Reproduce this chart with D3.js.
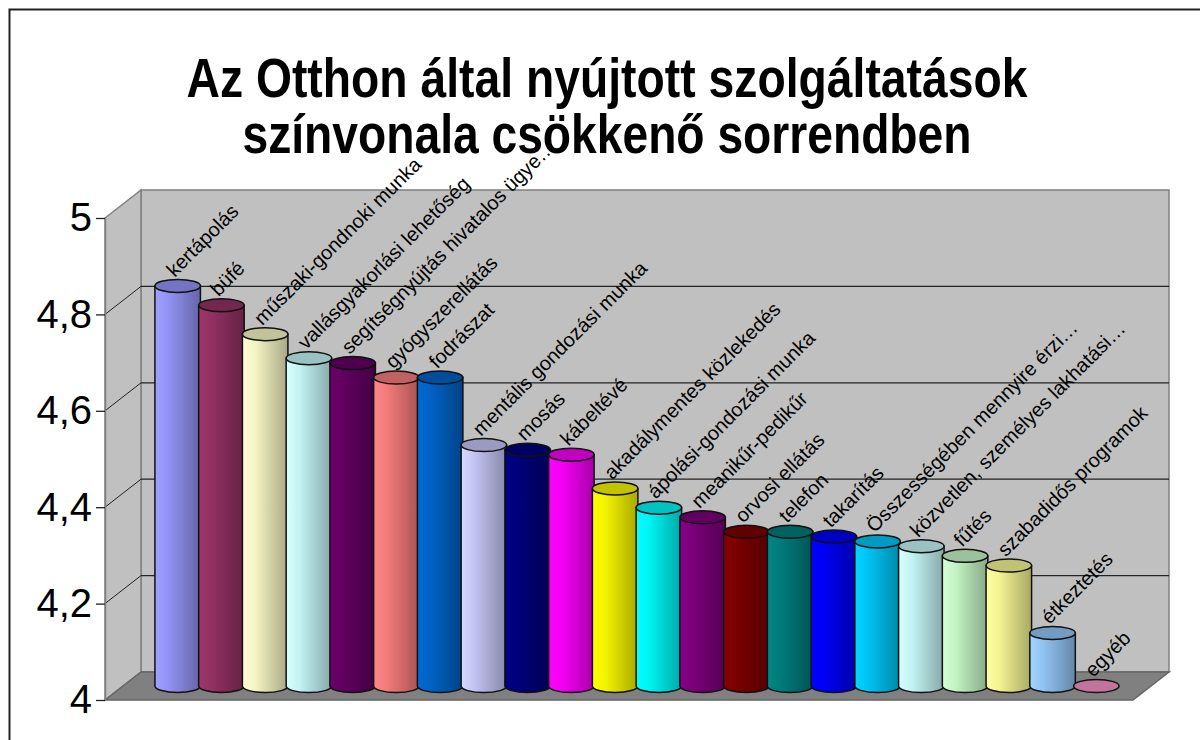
<!DOCTYPE html>
<html>
<head>
<meta charset="utf-8">
<script src="https://cdn.jsdelivr.net/npm/d3@7"></script>
<style>
  body { margin: 0; background: #fff; }
  svg text { font-family: "Liberation Sans", Arial, sans-serif; }
</style>
</head>
<body>
<div id="chart"></div>
<script>
// service categories, in decreasing order of rating
const categories = [
  "kertápolás", "büfé", "műszaki-gondnoki munka", "vallásgyakorlási lehetőség",
  "segítségnyújtás hivatalos ügye…", "gyógyszerellátás", "fodrászat",
  "mentális gondozási munka", "mosás", "kábeltévé", "akadálymentes közlekedés",
  "ápolási-gondozási munka", "meanikűr-pedikűr", "orvosi ellátás", "telefon",
  "takarítás", "Összességében mennyire érzi…", "közvetlen, személyes lakhatási…",
  "fűtés", "szabadidős programok", "étkeztetés", "egyéb"
];
const values = [
  4.83, 4.79, 4.73, 4.68, 4.67, 4.64, 4.64, 4.50, 4.49, 4.48, 4.41,
  4.37, 4.35, 4.32, 4.32, 4.31, 4.30, 4.29, 4.27, 4.25, 4.11, 4.00
];
const colors = [
  "#9999ff", "#993366", "#ffffcc", "#ccffff", "#660066", "#ff8080", "#0066cc",
  "#ccccff", "#000080", "#ff00ff", "#ffff00", "#00ffff", "#800080", "#800000",
  "#008080", "#0000ff", "#00ccff", "#ccffff", "#ccffcc", "#ffff99", "#99ccff", "#ff99cc"
];
const yTicks = [4, 4.2, 4.4, 4.6, 4.8, 5];
const titleLines = ["Az Otthon által nyújtott szolgáltatások", "színvonala csökkenő sorrendben"];

const W = 1200, H = 740;
// 3d depth offset of the back wall relative to the front plane
const depth = { dx: 36, dy: -28 };
const floorFront = { x0: 105, x1: 1133 };

const data = categories.map((c, i) => ({ name: c, value: values[i], color: colors[i] }));

const svg = d3.select("#chart").append("svg")
  .attr("width", W).attr("height", H);

svg.append("rect")
  .attr("x", 9.5).attr("y", 9.5)
  .attr("width", W + 20).attr("height", H + 20)
  .attr("fill", "#fff").attr("stroke", "#222").attr("stroke-width", 2);

// title
svg.append("g").selectAll("text")
  .data(titleLines)
  .enter().append("text")
    .attr("x", 607)
    .attr("y", (d, i) => 97 + i * 56)
    .attr("text-anchor", "middle")
    .attr("font-size", 56)
    .attr("font-weight", "bold")
    .attr("textLength", (d, i) => i === 0 ? 841 : 729)
    .attr("lengthAdjust", "spacingAndGlyphs")
    .text(d => d);

// scales (front plane)
const yFront = d3.scaleLinear().domain([4, 5]).range([700, 218]);
const yBack = v => yFront(v) + depth.dy;
const yMid = v => yFront(v) + depth.dy / 2;

const xScale = d3.scaleBand()
  .domain(categories)
  .range([floorFront.x0 + depth.dx / 2, floorFront.x1 + depth.dx / 2])
  .paddingInner(0)
  .paddingOuter(0.75);

const backL = floorFront.x0 + depth.dx, backR = floorFront.x1 + depth.dx;

// walls and floor
svg.append("rect")
  .attr("x", backL).attr("y", yBack(5))
  .attr("width", backR - backL).attr("height", yBack(4) - yBack(5))
  .attr("fill", "#c0c0c0").attr("stroke", "#808080").attr("stroke-width", 1.5);

svg.append("path")
  .attr("d", `M${floorFront.x0},${yFront(4)} L${floorFront.x0},${yFront(5)} L${backL},${yBack(5)} L${backL},${yBack(4)} Z`)
  .attr("fill", "#c0c0c0").attr("stroke", "#808080").attr("stroke-width", 1.5);

svg.append("path")
  .attr("d", `M${floorFront.x0},${yFront(4)} L${backL},${yBack(4)} L${backR},${yBack(4)} L${floorFront.x1},${yFront(4)} Z`)
  .attr("fill", "#808080").attr("stroke", "#666").attr("stroke-width", 1.5);

// gridlines on back wall + side wall diagonals
const grid = svg.append("g");
yTicks.filter(t => t > 4 && t < 5).forEach(t => {
  grid.append("line")
    .attr("x1", backL).attr("x2", backR)
    .attr("y1", yBack(t)).attr("y2", yBack(t))
    .attr("stroke", "#222").attr("stroke-width", 1.3);
  grid.append("line")
    .attr("x1", floorFront.x0).attr("x2", backL)
    .attr("y1", yFront(t)).attr("y2", yBack(t))
    .attr("stroke", "#222").attr("stroke-width", 1);
});

// y axis
const yAxis = svg.append("g")
  .attr("transform", `translate(${floorFront.x0},0)`)
  .call(d3.axisLeft(yFront)
    .tickValues(yTicks)
    .tickSize(9)
    .tickSizeOuter(0)
    .tickPadding(4)
    .tickFormat(d => String(+d.toFixed(1)).replace(".", ",")));
yAxis.select(".domain").attr("stroke", "#808080").attr("stroke-width", 1.5);
yAxis.selectAll(".tick line").attr("stroke", "#222").attr("stroke-width", 1.3);
yAxis.selectAll(".tick text")
  .attr("font-size", 40)
  .attr("fill", "#000")
  .style("font-family", "'Liberation Sans', Arial, sans-serif");

// gradients for cylinder shading
const defs = svg.append("defs");
data.forEach((d, i) => {
  const c = d3.color(d.color);
  const shade = k => d3.rgb(c.r * k, c.g * k, c.b * k).formatHex();
  const g = defs.append("linearGradient").attr("id", "cyl" + i)
    .attr("x1", "0%").attr("x2", "100%").attr("y1", "0%").attr("y2", "0%");
  g.append("stop").attr("offset", "0%").attr("stop-color", d3.rgb(c).brighter(0.15).formatHex());
  g.append("stop").attr("offset", "30%").attr("stop-color", shade(0.95));
  g.append("stop").attr("offset", "100%").attr("stop-color", shade(0.66));
  d.topColor = shade(0.76);
});

// cylinders
const rx = xScale.bandwidth() * 0.52, ry = 6.5;
const bars = svg.append("g").selectAll(".bar")
  .data(data)
  .enter().append("g")
    .attr("class", "bar");

bars.append("path")
  .attr("d", d => {
    const cx = xScale(d.name) + xScale.bandwidth() / 2;
    const top = yMid(d.value), bot = yMid(4);
    return `M${cx - rx},${top} L${cx - rx},${bot} A${rx},${ry} 0 0 0 ${cx + rx},${bot} L${cx + rx},${top} Z`;
  })
  .attr("fill", (d, i) => `url(#cyl${i})`)
  .attr("stroke", "#111").attr("stroke-width", 1.5)
  .attr("display", d => d.value > 4 ? null : "none");

bars.append("ellipse")
  .attr("cx", d => xScale(d.name) + xScale.bandwidth() / 2)
  .attr("cy", d => yMid(d.value))
  .attr("rx", rx).attr("ry", ry)
  .attr("fill", d => d.topColor)
  .attr("stroke", "#111").attr("stroke-width", 1.5);

// rotated category labels above each bar
svg.append("g").selectAll("text")
  .data(data)
  .enter().append("text")
    .attr("transform", d => {
      const cx = xScale(d.name) + xScale.bandwidth() / 2;
      return `translate(${cx - 3},${yMid(d.value) - 8}) rotate(-45)`;
    })
    .attr("font-size", 20)
    .attr("fill", "#000")
    .text(d => d.name);
</script>
</body>
</html>
